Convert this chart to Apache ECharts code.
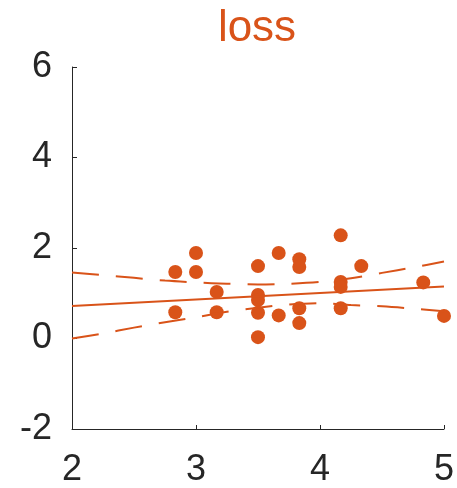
<!DOCTYPE html>
<html>
<head>
<meta charset="utf-8">
<script src="https://cdn.jsdelivr.net/npm/echarts@6/dist/echarts.min.js"></script>
<style>
  html, body { margin: 0; padding: 0; background: #fff; }
  #chart { width: 457px; height: 488px; }
</style>
</head>
<body>
<div id="chart"></div>
<script>
// Observations
const pointX = [2.833, 2.833, 3.0, 3.0, 3.167, 3.167,
                3.5, 3.5, 3.5, 3.5, 3.5,
                3.667, 3.667,
                3.833, 3.833, 3.833, 3.833,
                4.167, 4.167, 4.167, 4.167,
                4.333, 4.833, 5.0];
const pointY = [1.47, 0.58, 1.89, 1.47, 1.03, 0.58,
                1.60, 0.96, 0.85, 0.57, 0.03,
                1.89, 0.51,
                1.75, 1.58, 0.67, 0.34,
                2.28, 1.25, 1.14, 0.67,
                1.60, 1.24, 0.50];

// Fitted trend line (end points)
const fitX = [2, 5];
const fitY = [0.72, 1.15];

// Confidence band for the fit
const bandX     = [2, 2.25, 2.5, 2.75, 3, 3.25, 3.5, 3.75, 4, 4.25, 4.5, 4.75, 5];
const bandUpper = [1.46, 1.40, 1.34, 1.28, 1.24, 1.21, 1.195, 1.21, 1.25, 1.33, 1.45, 1.57, 1.70];
const bandLower = [0.00, 0.11, 0.24, 0.36, 0.47, 0.59, 0.68, 0.75, 0.78, 0.74, 0.71, 0.66, 0.60];

// Axis ticks
const xTicks = [2, 3, 4, 5];
const yTicks = [-2, 0, 2, 4, 6];

const accent = '#D95319';
const ink = '#262626';
const font = '"Liberation Sans", Arial, Helvetica, sans-serif';

const zip = (a, b) => a.map((v, i) => [v, b[i]]);

const chart = echarts.init(document.getElementById('chart'), null, { renderer: 'canvas' });

chart.setOption({
  animation: false,
  backgroundColor: '#ffffff',
  title: {
    text: 'loss',
    left: 252,
    textAlign: 'center',
    top: 2,
    textStyle: { color: accent, fontSize: 44, fontWeight: 'normal', fontFamily: font }
  },
  grid: { left: 72, right: 10, top: 67, bottom: 56 },
  xAxis: {
    type: 'value',
    min: xTicks[0],
    max: xTicks[xTicks.length - 1],
    interval: 1,
    axisLine: { show: true, onZero: false, lineStyle: { color: ink, width: 1 } },
    axisTick: { show: true, inside: true, length: 4, lineStyle: { color: ink } },
    splitLine: { show: false },
    axisLabel: { color: ink, fontSize: 36, fontFamily: font, margin: 23 }
  },
  yAxis: {
    type: 'value',
    min: yTicks[0],
    max: yTicks[yTicks.length - 1],
    interval: 2,
    axisLine: { show: true, onZero: false, lineStyle: { color: ink, width: 1 } },
    axisTick: { show: true, inside: true, length: 5, lineStyle: { color: ink } },
    splitLine: { show: false },
    axisLabel: { color: ink, fontSize: 36, fontFamily: font, margin: 20 }
  },
  series: [
    {
      type: 'scatter',
      data: zip(pointX, pointY),
      symbol: 'circle',
      symbolSize: 14,
      itemStyle: { color: accent, opacity: 1 },
      z: 2
    },
    {
      type: 'line',
      data: zip(fitX, fitY),
      showSymbol: false,
      lineStyle: { color: accent, width: 2 },
      z: 3
    },
    {
      type: 'line',
      data: zip(bandX, bandUpper),
      smooth: 0.3,
      showSymbol: false,
      lineStyle: { color: accent, width: 2, type: [27, 17] },
      z: 3
    },
    {
      type: 'line',
      data: zip(bandX, bandLower),
      smooth: 0.3,
      showSymbol: false,
      lineStyle: { color: accent, width: 2, type: [27, 17] },
      z: 3
    }
  ]
});
</script>
</body>
</html>
